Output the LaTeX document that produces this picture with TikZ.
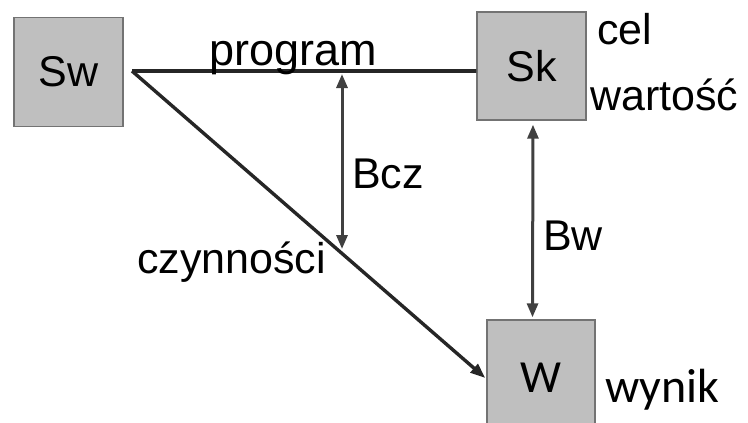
\documentclass[tikz,border=0pt]{standalone}
\usepackage{fontspec}
\setmainfont{Liberation Sans}
\newfontfamily\calibri{Carlito}
\usetikzlibrary{arrows.meta}
\tikzset{
    blok/.style={draw=black!55, line width=1.4pt, fill=black!25, minimum width=109pt, minimum height=109pt, inner sep=0pt},
    linia/.style={draw=black!85, line width=3.4pt},
    grot/.style={draw=black!75, line width=3pt, {Triangle[length=14pt,width=11pt]}-{Triangle[length=14pt,width=11pt]}},
    napis/.style={anchor=base west, inner sep=0pt, font=\fontsize{43}{48}\selectfont}
}
\begin{document}
\begin{tikzpicture}[x=1pt, y=-1pt]
                \useasboundingbox (0,0) rectangle (748,423);
                \clip (0,0) rectangle (748,423);

                \node[blok, font=\fontsize{43}{48}\selectfont] (sw) at (68.5,72) {Sw};
                \node[blok, font=\fontsize{43}{48}\selectfont, minimum height=108pt] (sk) at (531.5,66) {Sk};
                \node[blok, font=\calibri\fontsize{46}{52}\selectfont, minimum width=108pt, minimum height=116pt] (w) at (541,378) {W};

                \coordinate (start) at (132,71);
                \coordinate (bcz1) at (342,74);
                \coordinate (bcz2) at (342,249);

                \draw[linia] (start) -- (start -| sk.west) -- ++(-3,0);
                \draw[linia, -{Triangle[length=15pt,width=11pt]}] (start) -- ([xshift=-1pt]w.west);
                \draw[grot] (bcz1) -- (bcz2);
                \draw[grot, shorten <=4pt, shorten >=2pt] ([xshift=1.5pt]sk.south) -- ([xshift=-8.5pt]w.north);

                \node[napis, font=\fontsize{45}{50}\selectfont] (program) at (209,65) {program};
                \node[napis] (bcz) at (352,188) {Bcz};
                \node[napis] (czyn) at (137,273) {czynności};
                \node[napis] (bw) at (543,250) {Bw};
                \node[napis] (cel) at (597,45) {cel};
                \node[napis] (wart) at (590,110) {wartość};
                \node[napis, font=\calibri\fontsize{48}{54}\selectfont] (wynik) at (605,402) {wynik};
            \end{tikzpicture}
\end{document}
